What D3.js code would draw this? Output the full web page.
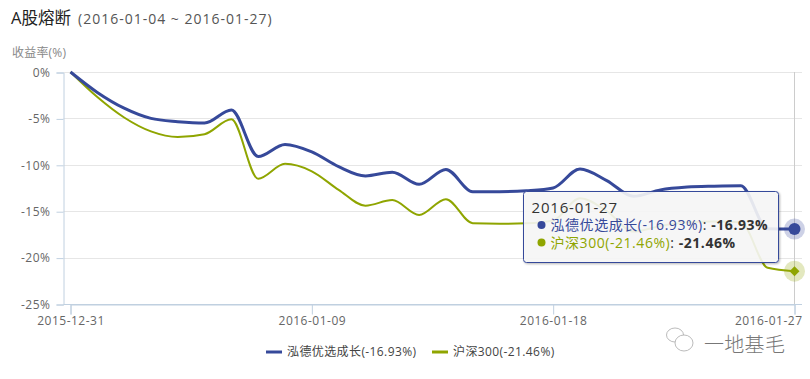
<!DOCTYPE html>
<html>
<head>
<meta charset="utf-8">
<script src="https://cdn.jsdelivr.net/npm/d3@7"></script>
<style>
    html, body { margin: 0; padding: 0; background: #fff; }
    svg { display: block; }
    text { font-family: "Open Sans", "Noto Sans CJK SC", sans-serif; }
</style>
</head>
<body>
<div id="chart"></div>
<script>
const dates = ["2015-12-31", "2016-01-01", "2016-01-02", "2016-01-03", "2016-01-04", "2016-01-05", "2016-01-06",
    "2016-01-07", "2016-01-08", "2016-01-09", "2016-01-10", "2016-01-11", "2016-01-12", "2016-01-13", "2016-01-14",
    "2016-01-15", "2016-01-16", "2016-01-17", "2016-01-18", "2016-01-19", "2016-01-20", "2016-01-21", "2016-01-22",
    "2016-01-23", "2016-01-24", "2016-01-25", "2016-01-26", "2016-01-27"];
const hongde = [0, -2.2, -3.9, -5.0, -5.35, -5.5, -4.1, -9.1, -7.8, -8.6, -10.2, -11.2, -10.8, -12.1, -10.5,
    -12.9, -12.9, -12.8, -12.5, -10.45, -11.7, -13.4, -12.7, -12.4, -12.3, -12.25, -16.9, -16.93];
const hs300 = [0, -2.7, -4.9, -6.4, -7.0, -6.7, -5.1, -11.5, -9.9, -10.7, -12.7, -14.4, -13.8, -15.4, -13.7,
    -16.3, -16.35, -16.3, -16.0, -13.6, -15.0, -17.2, -16.6, -16.2, -16.1, -16.2, -21.1, -21.46];
const yTickValues = [0, -5, -10, -15, -20, -25];
const xTickLabels = ["2015-12-31", "2016-01-09", "2016-01-18", "2016-01-27"];
const seriesNames = ["泓德优选成长(-16.93%)", "沪深300(-21.46%)"];
const tooltipValues = ["-16.93%", "-21.46%"];

const width = 810;
const height = 379;
const blue = "#36499a";
const green = "#8fa500";
const axisColor = "#c0d0e0";

const parseDate = d3.utcParse("%Y-%m-%d");

const svg = d3.select("#chart")
    .append("svg")
    .attr("width", width)
    .attr("height", height);

const defs = svg.append("defs");
const shadow = defs.append("filter").attr("id", "tipShadow")
    .attr("x", "-5%").attr("y", "-10%").attr("width", "110%").attr("height", "125%");
shadow.append("feDropShadow")
    .attr("dx", 1).attr("dy", 1).attr("stdDeviation", 1.2)
    .attr("flood-color", "#000").attr("flood-opacity", 0.3);

const x = d3.scaleUtc()
    .domain([parseDate(dates[0]), parseDate(dates[dates.length - 1])])
    .range([70.5, 794.5]);

const y = d3.scaleLinear()
    .domain([0, -25])
    .range([72, 304]);

// Title
svg.append("text").attr("x", 11).attr("y", 24)
    .style("font-size", "16.5px").style("fill", "#222").text("A股熔断");
svg.append("text").attr("x", 78).attr("y", 24)
    .style("font-size", "14px").style("letter-spacing", "1px").style("fill", "#555").text("(2016-01-04 ~ 2016-01-27)");
svg.append("text").attr("x", 12).attr("y", 57)
    .style("font-size", "12px").style("letter-spacing", "0.2px").style("fill", "#888").text("收益率(%)");

// Grid
svg.append("g").selectAll("line")
    .data(yTickValues)
    .join("line")
    .attr("x1", 63.5)
    .attr("x2", 802)
    .attr("y1", d => Math.round(y(d)) + 0.5)
    .attr("y2", d => Math.round(y(d)) + 0.5)
    .attr("stroke", d => d === -25 ? axisColor : "#e6e6e6");

// Axes
const yAxis = svg.append("g")
    .attr("transform", "translate(63.5,0.5)")
    .call(d3.axisLeft(y).tickValues(yTickValues).tickSize(7).tickPadding(6).tickFormat(d => d + "%"));

const xAxis = svg.append("g")
    .attr("transform", "translate(0,304.5)")
    .call(d3.axisBottom(x).tickValues(xTickLabels.map(parseDate)).tickSize(10).tickPadding(2)
        .tickFormat(d3.utcFormat("%Y-%m-%d")));

[yAxis, xAxis].forEach(axis => {
    axis.selectAll("path, line").attr("stroke", axisColor);
    axis.selectAll("text")
        .style("font-size", "12px")
        .style("letter-spacing", "0.5px")
        .style("font-family", "'Open Sans', 'Noto Sans CJK SC', sans-serif")
        .style("fill", "#666");
});
xAxis.selectAll(".tick").filter((d, i) => i === xTickLabels.length - 1)
    .select("text").attr("text-anchor", "end").attr("dx", 7.5);

// Crosshair
svg.append("line")
    .attr("x1", x(parseDate(dates[dates.length - 1])))
    .attr("x2", x(parseDate(dates[dates.length - 1])))
    .attr("y1", y(0))
    .attr("y2", y(-25))
    .attr("stroke", "#ccc");

// Lines
const line = d3.line()
    .curve(d3.curveMonotoneX)
    .x((d, i) => x(parseDate(dates[i])))
    .y(d => y(d));

svg.append("path").datum(hs300)
    .attr("fill", "none").attr("stroke", green).attr("stroke-width", 2).attr("d", line);
svg.append("path").datum(hongde)
    .attr("fill", "none").attr("stroke", blue).attr("stroke-width", 3).attr("d", line);

// Hover markers
const lastX = x(parseDate(dates[dates.length - 1]));
const lastBlue = y(hongde[hongde.length - 1]);
const lastGreen = y(hs300[hs300.length - 1]);
svg.append("circle").attr("cx", lastX).attr("cy", lastBlue).attr("r", 10.5)
    .attr("fill", blue).attr("opacity", 0.25);
svg.append("circle").attr("cx", lastX).attr("cy", lastBlue).attr("r", 6).attr("fill", blue);
svg.append("circle").attr("cx", lastX).attr("cy", lastGreen).attr("r", 10.5)
    .attr("fill", green).attr("opacity", 0.25);
svg.append("path")
    .attr("d", d3.symbol().type(d3.symbolSquare).size(50))
    .attr("transform", `translate(${lastX},${lastGreen}) rotate(45)`)
    .attr("fill", green);

// Tooltip
const tip = svg.append("g").attr("transform", "translate(523.5,191.5)");
tip.append("rect")
    .attr("width", 255).attr("height", 71).attr("rx", 3)
    .attr("fill", "rgba(249,249,249,0.88)")
    .attr("stroke", blue).attr("stroke-width", 1)
    .attr("filter", "url(#tipShadow)");
tip.append("text").attr("x", 8).attr("y", 21)
    .style("font-size", "15px").style("letter-spacing", "0.8px").style("fill", "#333").text(dates[dates.length - 1]);
seriesNames.forEach((name, i) => {
    const color = i === 0 ? blue : green;
    const row = tip.append("g").attr("transform", `translate(0,${33.5 + i * 17.5})`);
    row.append("circle").attr("cx", 18).attr("cy", 0).attr("r", 4).attr("fill", color);
    const label = row.append("text").attr("x", 27).attr("y", 5)
        .style("font-size", "14px").style("letter-spacing", "0.55px");
    label.append("tspan").style("fill", color).text(name);
    label.append("tspan").style("fill", "#333").text(": ");
    label.append("tspan").style("fill", "#333").style("font-weight", "bold").text(tooltipValues[i]);
});

// Legend
const legendX = [266, 432];
seriesNames.forEach((name, i) => {
    svg.append("line")
        .attr("x1", legendX[i]).attr("x2", legendX[i] + 16)
        .attr("y1", 352).attr("y2", 352)
        .attr("stroke", i === 0 ? blue : green).attr("stroke-width", 3);
    svg.append("text").attr("x", legendX[i] + 21).attr("y", 356)
        .style("font-size", "12px").style("letter-spacing", "0.4px").style("fill", "#444").text(name);
});

// Watermark
const mark = svg.append("g").attr("fill", "#fff").attr("stroke", "#aaa").attr("stroke-width", 0.8);
mark.append("ellipse").attr("cx", 675).attr("cy", 335).attr("rx", 8.5).attr("ry", 7);
mark.append("ellipse").attr("cx", 684).attr("cy", 343).attr("rx", 9).attr("ry", 8);
svg.append("text").attr("x", 704).attr("y", 352)
    .style("font-size", "20px").style("font-weight", 300).style("letter-spacing", "0.3px")
    .style("fill", "#777").text("一地基毛");
</script>
</body>
</html>
